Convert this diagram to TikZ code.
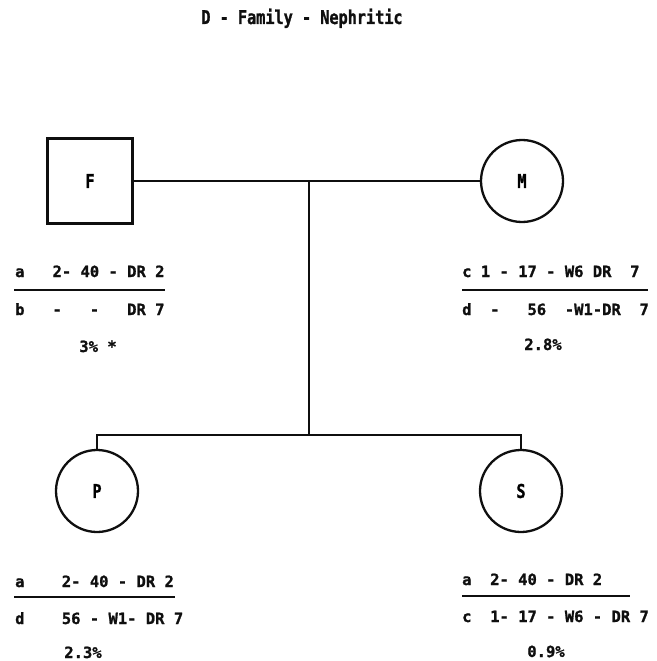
\documentclass[tikz,border=0pt]{standalone}
\usepackage{fontspec}
\setmonofont{DejaVu Sans Mono}[FakeBold=1.2]
\newfontfamily\headfont{DejaVu Sans Mono}[FakeStretch=0.8,FakeBold=1.2]
\usetikzlibrary{positioning}
\definecolor{ink}{RGB}{15,15,15}
\tikzset{
  line/.style={draw=ink,line width=2.3pt},
  male/.style={draw=ink,line width=2.3pt,rectangle,minimum size=85pt,inner sep=0pt,
    font=\headfont\bfseries\fontsize{19}{19}\selectfont},
  female/.style={draw=ink,line width=2.3pt,circle,minimum size=82pt,inner sep=0pt,
    font=\headfont\bfseries\fontsize{19}{19}\selectfont},
  geno/.style={anchor=base west,inner sep=0pt,text=ink,
    font=\ttfamily\bfseries\fontsize{15.5}{15.5}\selectfont},
  freq/.style={geno,anchor=base},
  rule/.style={draw=ink,line width=2pt},
}
\begin{document}
\begin{tikzpicture}[x=1pt,y=-1pt]
  \useasboundingbox (0,0) rectangle (656,661);
  \node[anchor=base,inner sep=0pt,text=ink,font=\headfont\bfseries\fontsize{19}{19}\selectfont]
    (title) at (302,24) {D - Family - Nephritic};
  % parents and children
  \node[male] (F) at (90,181) {F};
  \node[female] (M) at (522,181) {M};
  \node[female] (P) at (97,491) {P};
  \node[female] (S) at (521,491) {S};
  \coordinate (mate) at (309,181);
  \coordinate (sib) at (309,435);
  \draw[line] (F.east) -- (M.west);
  \draw[line] (mate) -- (sib);
  \draw[line] (P.north) |- (sib) -| (S.north);
  % haplotypes
  \node[geno] (Fa) at (15,277) {a~~~2-~40~-~DR~2};
  \node[geno] (Fb) at (15,315) {b~~~-~~~-~~~DR~7};
  \node[freq] (Fp) at (98,352) {3\%~*};
  \draw[rule] (14,290) -- (165,290);
  \node[geno] (Mc) at (462,277) {c~1~-~17~-~W6~DR~~7};
  \node[geno] (Md) at (462,315) {d~~-~~~56~~-W1-DR~~7};
  \node[freq] (Mp) at (543,350) {2.8\%};
  \draw[rule] (462,290) -- (648,290);
  \node[geno] (Pa) at (15,587) {a~~~~2-~40~-~DR~2};
  \node[geno] (Pd) at (15,624) {d~~~~56~-~W1-~DR~7};
  \node[freq] (Pp) at (83,658) {2.3\%};
  \draw[rule] (14,597) -- (175,597);
  \node[geno] (Sa) at (462,585) {a~~2-~40~-~DR~2};
  \node[geno] (Sc) at (462,622) {c~~1-~17~-~W6~-~DR~7};
  \node[freq] (Sp) at (546,657) {0.9\%};
  \draw[rule] (462,596) -- (630,596);
\end{tikzpicture}
\end{document}
